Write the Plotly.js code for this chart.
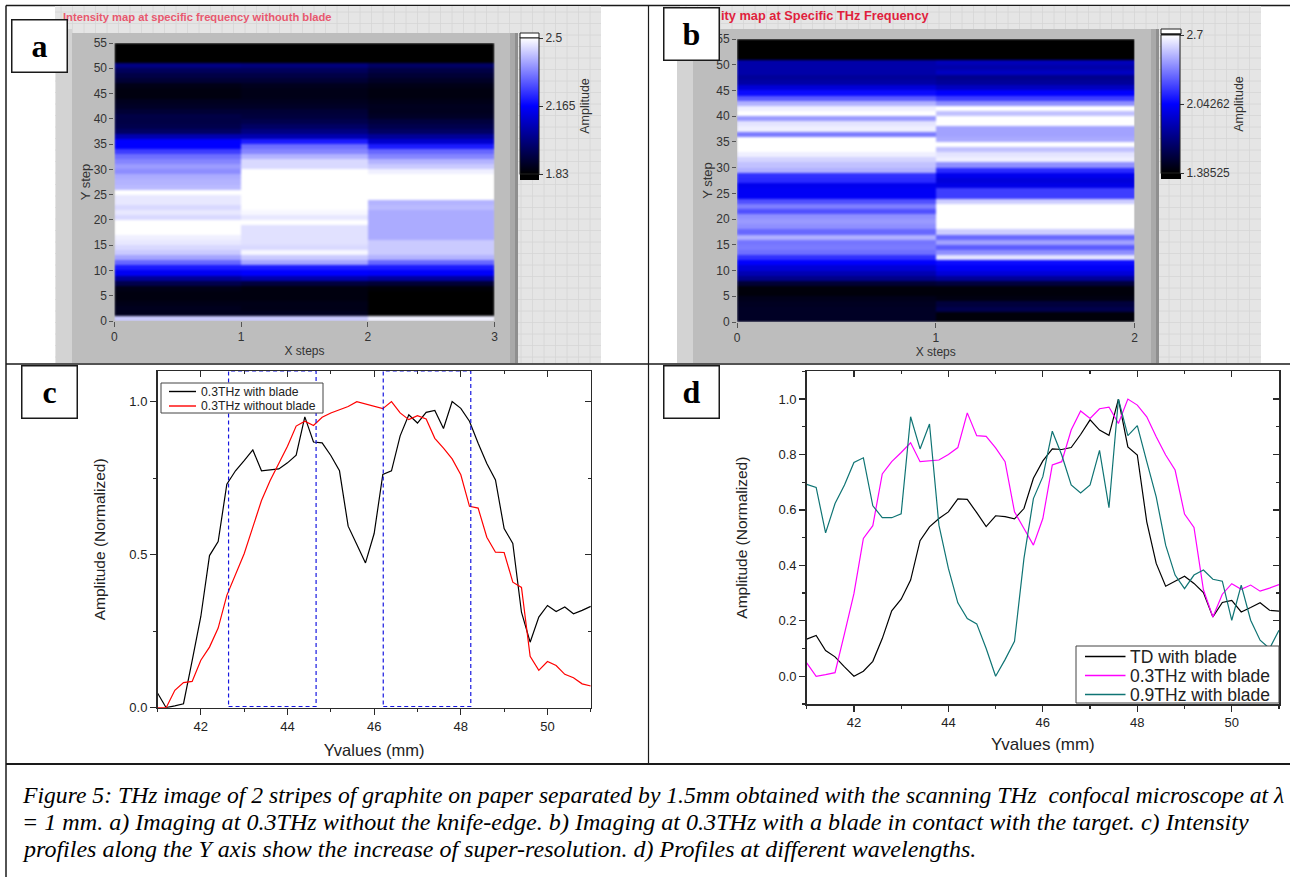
<!DOCTYPE html>
<html><head><meta charset="utf-8">
<script src="https://cdn.plot.ly/plotly-3.0.1.min.js"></script>
<style>html,body{margin:0;padding:0;background:#fff}#g{width:1290px;height:877px}
.heatmaplayer image{filter:blur(0.9px)}</style>
</head><body><div id="g"></div>
<script>
// ---------- data ----------
const yEdges = Array.from({length:56},(_, i)=>i);
const xEdgesA = [0,1,2,3];
const xEdgesB = [0,1,2];
const mapA0 = [2.43,1.87,1.87,1.86,1.85,1.85,1.86,1.93,2.03,2.15,2.20,2.30,2.38,2.43,2.45,2.47,2.48,2.5,2.5,2.5,2.45,2.47,2.45,2.47,2.47,2.5,2.41,2.40,2.39,2.35,2.37,2.34,2.31,2.245,2.165,2.165,2.06,1.96,1.93,1.92,1.92,1.90,1.88,1.87,1.85,1.85,1.86,1.90,1.92,1.95,2.00,1.83,1.83,1.83,1.83];
const mapA1 = [2.43,1.87,1.86,1.86,1.85,1.85,1.85,1.91,2.06,2.165,2.20,2.38,2.43,2.49,2.45,2.46,2.46,2.46,2.46,2.5,2.47,2.49,2.5,2.5,2.5,2.5,2.5,2.5,2.5,2.5,2.45,2.45,2.40,2.34,2.31,2.20,2.06,2.00,1.96,1.93,1.91,1.90,1.88,1.87,1.86,1.86,1.87,1.90,1.92,1.95,1.99,1.83,1.83,1.83,1.83];
const mapA2 = [2.48,1.83,1.83,1.83,1.83,1.83,1.84,1.90,2.04,2.16,2.20,2.30,2.40,2.43,2.43,2.43,2.39,2.39,2.39,2.39,2.39,2.39,2.41,2.40,2.5,2.5,2.5,2.5,2.5,2.48,2.43,2.40,2.34,2.30,2.20,2.10,2.03,1.96,1.93,1.91,1.88,1.87,1.87,1.86,1.85,1.85,1.86,1.88,1.90,1.92,1.96,1.83,1.83,1.83,1.83];
const mapB0 = [1.48,1.48,1.48,1.47,1.45,1.41,1.41,1.52,1.74,1.845,1.94,2.04,2.17,2.33,2.36,2.345,2.50,2.31,2.41,2.44,2.41,2.25,2.37,2.25,2.02,2.02,2.0,2.15,2.17,2.50,2.54,2.59,2.66,2.7,2.7,2.7,2.36,2.66,2.63,2.44,2.7,2.66,2.50,2.28,2.07,1.94,1.81,1.78,1.82,1.82,1.82,1.385,1.385,1.385,1.385];
const mapB1 = [1.41,1.41,1.58,1.54,1.43,1.41,1.41,1.54,1.78,1.94,2.02,2.07,2.63,2.41,2.28,2.46,2.31,2.57,2.7,2.7,2.7,2.7,2.7,2.57,2.20,2.2,1.98,1.95,2.0,2.15,2.41,2.66,2.63,2.54,2.7,2.48,2.46,2.46,2.7,2.7,2.54,2.7,2.41,2.20,2.04,1.88,1.78,1.75,1.88,1.82,1.86,1.385,1.385,1.385,1.385];

const yValues = [41,41.2,41.4,41.6,41.8,42,42.2,42.4,42.6,42.8,43,43.2,43.4,43.6,43.8,44,44.2,44.4,44.6,44.8,45,45.2,45.4,45.6,45.8,46,46.2,46.4,46.6,46.8,47,47.2,47.4,47.6,47.8,48,48.2,48.4,48.6,48.8,49,49.2,49.4,49.6,49.8,50,50.2,50.4,50.6,50.8,51];
const withBlade03 = [.048,0,.006,.013,.154,.298,.497,.543,.73,.774,.807,.842,.774,.778,.78,.80,.825,.95,.868,.865,.824,.774,.593,.533,.473,.569,.762,.774,.888,.957,.93,.965,.971,.912,1,.978,.936,.864,.798,.744,.585,.537,.312,.214,.296,.334,.314,.329,.307,.318,.331];
const withoutBlade03 = [0,0,.057,.082,.086,.155,.198,.26,.367,.432,.503,.59,.677,.742,.80,.854,.92,.936,.922,.949,.963,.973,.984,1,.993,.984,.977,1,.963,.941,.954,.943,.88,.848,.813,.761,.658,.652,.557,.508,.507,.41,.393,.168,.122,.151,.138,.109,.098,.078,.071];
const tdWithBlade = [.134,.147,.093,.07,.034,0,.018,.054,.136,.236,.278,.347,.489,.539,.569,.593,.64,.638,.59,.54,.579,.576,.568,.605,.714,.777,.82,.818,.825,.872,.925,.888,.869,1,.827,.798,.557,.407,.325,.343,.361,.335,.302,.214,.266,.274,.232,.248,.265,.238,.235];
const withBlade09 = [.692,.681,.517,.623,.69,.771,.788,.615,.572,.572,.586,.936,.82,.91,.545,.389,.265,.208,.189,.10,0,.06,.126,.425,.641,.72,.884,.798,.69,.661,.69,.815,.608,1,.868,.904,.774,.647,.473,.365,.316,.365,.383,.35,.343,.202,.329,.202,.13,.10,.166];

const caption = [
 "Figure 5: THz image of 2 stripes of graphite on paper separated by 1.5mm obtained with the scanning THz  confocal microscope at λ",
 "= 1 mm. a) Imaging at 0.3THz without the knife-edge. b) Imaging at 0.3THz with a blade in contact with the target. c) Intensity",
 "profiles along the Y axis show the increase of super-resolution. d) Profiles at different wavelengths."
];

// ---------- helpers ----------
const W = 1290, H = 877;
const X = p => p / W, Y = p => 1 - p / H;
const dx = (a,b) => [X(a), X(b)], dy = (t,b) => [Y(b), Y(t)];
const rect = (x0,y0,x1,y1,fill,extra={}) => Object.assign({type:'rect',xref:'paper',yref:'paper',x0:X(x0),x1:X(x1),y0:Y(y1),y1:Y(y0),fillcolor:fill,line:{width:0},layer:'below'},extra);
const seg = (x0,y0,x1,y1,color,w,layer='below') => ({type:'line',xref:'paper',yref:'paper',x0:X(x0),x1:X(x1),y0:Y(y0),y1:Y(y1),line:{color,width:w},layer});
const byRow = cols => cols[0].map((_,i)=>cols.map(c=>c[i]));
const scale = [[0,'#000000'],[0.5,'#0000ff'],[1,'#ffffff']];
const lvFont = {family:'"Liberation Sans",sans-serif',size:12,color:'#333'};
const cbar = (x,top,len,tv,tt) => ({x:X(x),xanchor:'left',xref:'paper',y:Y(top),yanchor:'top',yref:'paper',len,lenmode:'pixels',thickness:19,thicknessmode:'pixels',xpad:0,ypad:0,outlinecolor:'#222',outlinewidth:1,borderwidth:0,tickvals:tv,ticktext:tt,ticks:'outside',ticklen:4,tickcolor:'#333',tickfont:Object.assign({},lvFont,{size:12}),title:{text:'Amplitude',side:'right',font:Object.assign({},lvFont,{size:12.5})}});

// ---------- traces ----------
const lw = 1.2;
const traces = [
 {type:'heatmap',xaxis:'x',yaxis:'y',x:xEdgesA,y:yEdges,z:byRow([mapA0,mapA1,mapA2]),zmin:1.83,zmax:2.5,colorscale:scale,hoverinfo:'skip',colorbar:cbar(520,38,136,[1.83,2.165,2.5],['1.83','2.165','2.5'])},
 {type:'heatmap',xaxis:'x2',yaxis:'y2',x:xEdgesB,y:yEdges,z:byRow([mapB0,mapB1]),zmin:1.38525,zmax:2.7,colorscale:scale,hoverinfo:'skip',colorbar:cbar(1161,35,138,[1.38525,2.04262,2.7],['1.38525','2.04262','2.7'])},
 {type:'scatter',mode:'lines',xaxis:'x3',yaxis:'y3',x:yValues,y:withBlade03,name:'0.3THz with blade',line:{color:'#000',width:lw}},
 {type:'scatter',mode:'lines',xaxis:'x3',yaxis:'y3',x:yValues,y:withoutBlade03,name:'0.3THz without blade',line:{color:'#f00',width:lw}},
 {type:'scatter',mode:'lines',xaxis:'x4',yaxis:'y4',x:yValues,y:tdWithBlade,name:'TD with blade',line:{color:'#000',width:lw}},
 {type:'scatter',mode:'lines',xaxis:'x4',yaxis:'y4',x:yValues,y:withBlade03,name:'0.3THz with blade',line:{color:'#f0f',width:lw}},
 {type:'scatter',mode:'lines',xaxis:'x4',yaxis:'y4',x:yValues,y:withBlade09,name:'0.9THz with blade',line:{color:'#0f7474',width:lw}},
 // carriers of the inward ticks on the top and right edges
 {type:'scatter',mode:'lines',xaxis:'x5',yaxis:'y5',x:yValues,y:withBlade03,opacity:0,hoverinfo:'skip',line:{width:0}},
 {type:'scatter',mode:'lines',xaxis:'x6',yaxis:'y6',x:yValues,y:withBlade03,opacity:0,hoverinfo:'skip',line:{width:0}}
];

// ---------- layout pieces ----------
const hmX = (dom,range,anchor,title) => ({domain:dom,range,anchor,dtick:1,tick0:0,ticks:'outside',ticklen:5,tickcolor:'#555',tickfont:lvFont,showgrid:false,zeroline:false,showline:false,title:{text:title,font:Object.assign({},lvFont,{size:12}),standoff:3}});
const hmY = (dom,anchor) => ({domain:dom,range:[0,55],anchor,dtick:5,tick0:0,ticks:'outside',ticklen:4,tickcolor:'#555',tickfont:lvFont,showgrid:false,zeroline:false,showline:false,title:{text:'Y step',font:Object.assign({},lvFont,{size:13}),standoff:0}});
const ink = '#2a2a2a', txt = {family:'"Liberation Sans",Arial,sans-serif',size:12,color:'#222'}, ttl = {family:'"Liberation Sans",Arial,sans-serif',size:16,color:'#222'};
const lnX = (dom,anchor,fs,tfs,so) => ({domain:dom,range:[41,51],anchor,tick0:42,dtick:2,ticks:'outside',ticklen:6,tickwidth:1.2,tickcolor:ink,minor:{tick0:41,dtick:1,ticks:'outside',ticklen:3,tickcolor:ink},showline:true,linecolor:ink,linewidth:1.5,showgrid:false,zeroline:false,tickfont:Object.assign({},txt,{size:fs}),title:{text:'Yvalues (mm)',font:Object.assign({},ttl,{size:tfs}),standoff:so}});
const lnY = (dom,range,anchor,major,minorStep,tick0,fs,tfs,so) => ({domain:dom,range,anchor,tick0,dtick:major,tickformat:'.1f',ticks:'outside',ticklen:6,tickwidth:1.2,tickcolor:ink,minor:{tick0:range[0],dtick:minorStep,ticks:'outside',ticklen:3,tickcolor:ink},showline:true,linecolor:ink,linewidth:1.5,showgrid:false,zeroline:false,tickfont:Object.assign({},txt,{size:fs}),title:{text:'Amplitude (Normalized)',font:Object.assign({},ttl,{size:tfs}),standoff:so}});
const topX = (over,anchor,dom) => ({overlaying:over,anchor,side:'top',domain:dom,range:[41,51],tick0:42,dtick:2,ticks:'inside',ticklen:6,tickwidth:1.2,tickcolor:ink,minor:{tick0:41,dtick:1,ticks:'inside',ticklen:3,tickcolor:ink},showticklabels:false,showline:true,linecolor:ink,linewidth:1.5,showgrid:false,zeroline:false});
const rightY = (over,anchor,dom,range,major,minorStep,tick0) => ({overlaying:over,anchor,side:'right',domain:dom,range,tick0,dtick:major,ticks:'inside',ticklen:6,tickwidth:1.2,tickcolor:ink,minor:{tick0:range[0],dtick:minorStep,ticks:'inside',ticklen:3,tickcolor:ink},showticklabels:false,showline:true,linecolor:ink,linewidth:1.5,showgrid:false,zeroline:false});

// panel backdrops
const shapes = [];
const tableInk = '#1a1a1a';
shapes.push(seg(6,5.5,1290,5.5,tableInk,1.5), seg(6,5.5,6,877,tableInk,1.5), seg(648.5,5.5,648.5,764,tableInk,1.2), seg(6,364,1290,364,tableInk,1.5), seg(6,764,1290,764,tableInk,1.8));
function panel(gx0,gx1,px0,px1,ptop){
  shapes.push(rect(gx0,6,gx1,363,'#e5e5e5'));
  for(let x=gx0+6;x<gx1;x+=11.5) shapes.push(seg(x,6,x,363,'#d6d6d6',0.8));
  for(let y=12;y<363;y+=11.5) shapes.push(seg(gx0,y,gx1,y,'#d6d6d6',0.8));
  shapes.push(rect(px0-16,ptop-4,px0,363,'#d3d3d3'));
  shapes.push(rect(px0,ptop,px1,363,'#bdbdbd'));
  shapes.push(rect(px1-8,ptop,px1-3,363,'#a9a9a9'));
  shapes.push(rect(px1-3,ptop,px1,363,'#8f8f8f'));
}
panel(55,601,72,518,33);
panel(680,1261,693,1159,29);
// colour-ramp over-range caps
shapes.push(rect(520,33,539,38,'#fff',{line:{color:'#222',width:1}}), rect(520,38,539,39.5,'#111'), rect(520,174,539,180,'#000'));
shapes.push(rect(1161,29,1181,34,'#fff',{line:{color:'#222',width:1}}), rect(1161,33.5,1181,35,'#111'), rect(1161,173,1181,179,'#000'));
// dashed stripe boxes of panel c
const boxes = [[42.64,44.66],[46.21,48.23]];
for(const [a,b] of boxes) shapes.push({type:'rect',xref:'x3',yref:'y3',x0:a,x1:b,y0:0.004,y1:1.1,line:{color:'#1616e0',width:1.2,dash:'4px,3px'},layer:'above'});

const label = (t,x0,y0) => ({text:'<b>'+t+'</b>',xref:'paper',yref:'paper',x:X(x0),y:Y(y0),xanchor:'left',yanchor:'top',showarrow:false,width:54,height:51,bgcolor:'#fff',bordercolor:'#1a1a1a',borderwidth:1.5,borderpad:0,align:'center',valign:'middle',font:{family:'"Liberation Serif","Times New Roman",serif',size:32,color:'#000'}});
const note = (t,x,y,anchor,font) => ({text:t,xref:'paper',yref:'paper',x:X(x),y:Y(y),xanchor:anchor,yanchor:'middle',showarrow:false,font});
const redBold = {family:'"Liberation Sans",sans-serif',size:11.2,color:'#e8586e',weight:700};
const capFont = s => ({family:'"Liberation Serif","Times New Roman",serif',size:s,color:'#000',style:'italic'});
const annotations = [
 note('Intensity map at specific frequency withouth blade',61,17,'left',redBold),
 note('ity map at Specific THz Frequency',719,16,'left',Object.assign({},redBold,{color:'#e01f3d',size:12.8})),
 label('a',11,19), label('b',663,7), label('c',20.5,365), label('d',663,365),
 note(caption[0],20,795,'left',capFont(23.65)), note(caption[1],20,822,'left',capFont(24.1)), note(caption[2],20,849,'left',capFont(24))
];

// in-plot keys
function key(x0,y0,x1,y1,lx0,lx1,tx,size,rows){
  shapes.push(rect(x0,y0,x1,y1,'#fff',{line:{color:'#444',width:1},layer:'above'}));
  for(const r of rows){
    shapes.push(seg(lx0,r.y,lx1,r.y,r.trace.line.color,lw+0.2,'above'));
    annotations.push(note(r.trace.name,tx,r.y,'left',{family:'"Liberation Sans",Arial,sans-serif',size,color:'#222'}));
  }
}
key(161,383,323,413,169,196,199,12.2,[{trace:traces[2],y:391.5},{trace:traces[3],y:406}]);
key(1076,646,1279,703,1085,1125.5,1128,17.5,[{trace:traces[4],y:656.5},{trace:traces[5],y:675.5},{trace:traces[6],y:694.5}]);

const domCx = dx(157.5,590.8), domCy = dy(371,707.7), domDx = dx(806.7,1279), domDy = dy(371.3,704);

const layout = {
 width:W,height:H,margin:{l:0,r:0,t:0,b:0},paper_bgcolor:'#fff',plot_bgcolor:'rgba(0,0,0,0)',showlegend:false,dragmode:false,
 xaxis:hmX(dx(114.4,494.6),[0,3],'y','X steps'), yaxis:hmY(dy(43,321),'x'),
 xaxis2:hmX(dx(737,1134.5),[0,2],'y2','X steps'), yaxis2:hmY(dy(39,322),'x2'),
 xaxis3:lnX(domCx,'y3',13,16.5,11), yaxis3:lnY(domCy,[0,1.1],'x3',0.5,0.25,0,13,15.5,20),
 xaxis4:lnX(domDx,'y4',13,17,9), yaxis4:lnY(domDy,[-0.1,1.1],'x4',0.2,0.1,0,13,15.5,27),
 xaxis5:topX('x3','y5',domCx), yaxis5:rightY('y3','x5',domCy,[0,1.1],0.5,0.25,0),
 xaxis6:topX('x4','y6',domDx), yaxis6:rightY('y4','x6',domDy,[-0.1,1.1],0.2,0.1,0),
 shapes,annotations
};
Plotly.newPlot('g',traces,layout,{displayModeBar:false,staticPlot:true});
</script></body></html>
